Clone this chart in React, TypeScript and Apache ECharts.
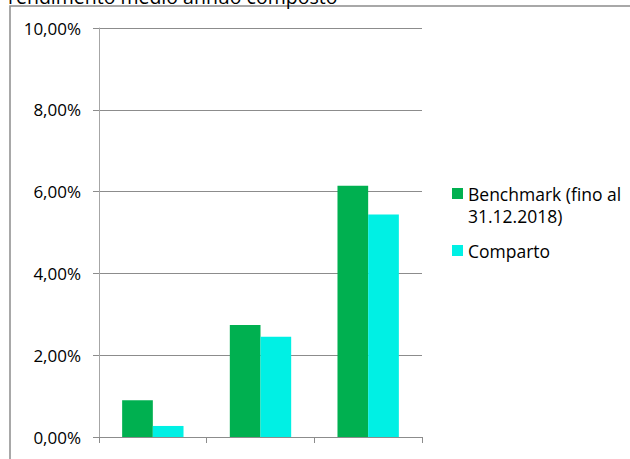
import React, { useEffect, useRef } from "react";
import * as echarts from "echarts";

const categories = ["1 anno", "3 anni", "5 anni"];
const benchmarkValues = [0.9, 2.74, 6.14];
const compartoValues = [0.27, 2.45, 5.44];
const seriesNames = ["Benchmark (fino al 31.12.2018)", "Comparto"];
const legendFirstLine = "Benchmark (fino al";
const legendSecondLine = "31.12.2018)";
const chartTitle = "rendimento medio annuo composto";

const FONT = "'Open Sans', 'Noto Sans', sans-serif";

export default function App() {
  const ref = useRef<HTMLDivElement>(null);
  useEffect(() => {
    if (!ref.current) return;
    const chart = echarts.init(ref.current, null, { renderer: "svg" });
    chart.setOption({
      animation: false,
      backgroundColor: "#ffffff",
      textStyle: { fontFamily: FONT },
      graphic: [
        {
          type: "rect",
          shape: { x: 10, y: 6, width: 700, height: 520 },
          style: { fill: "none", stroke: "#8c8c8c", lineWidth: 1.5 },
          silent: true,
        },
        {
          type: "text",
          x: 8,
          y: -4,
          style: {
            text: chartTitle,
            font: `19.5px ${FONT}`,
            fill: "#000000",
            verticalAlign: "middle",
          },
        },
        {
          type: "text",
          x: 468,
          y: 216,
          style: {
            text: legendSecondLine,
            font: `17.5px ${FONT}`,
            fill: "#000000",
            verticalAlign: "middle",
          },
        },
      ],
      legend: {
        orient: "vertical",
        left: 452,
        top: 182,
        padding: 0,
        itemWidth: 11,
        itemHeight: 11,
        itemGap: 34,
        icon: "rect",
        formatter: (name: string) =>
          name === seriesNames[0] ? legendFirstLine : name,
        textStyle: { fontFamily: FONT, fontSize: 17.5, color: "#000", lineHeight: 23 },
        data: seriesNames,
      },
      grid: { left: 99, top: 28, right: 208, bottom: 22, containLabel: false },
      xAxis: {
        type: "category",
        data: categories,
        axisLine: { lineStyle: { color: "#8c8c8c", width: 1 } },
        axisTick: { show: true, length: 6, lineStyle: { color: "#8c8c8c" } },
        axisLabel: { show: false },
        splitLine: { show: false },
      },
      yAxis: {
        type: "value",
        min: 0,
        max: 10,
        interval: 2,
        axisLine: { show: true, lineStyle: { color: "#a6a6a6", width: 1 } },
        axisTick: { show: true, length: 6, lineStyle: { color: "#8c8c8c" } },
        axisLabel: {
          margin: 18,
          fontFamily: FONT,
          fontSize: 17,
          color: "#000",
          formatter: (v: number) => v.toFixed(2).replace(".", ",") + "%",
        },
        splitLine: { show: true, lineStyle: { color: "#8c8c8c", width: 1 } },
      },
      series: [
        {
          name: seriesNames[0],
          type: "bar",
          data: benchmarkValues,
          barGap: "0%",
          barCategoryGap: "43%",
          itemStyle: { color: "#00B050" },
        },
        {
          name: seriesNames[1],
          type: "bar",
          data: compartoValues,
          itemStyle: { color: "#00F0E4" },
        },
      ],
    });
    return () => chart.dispose();
  }, []);
  return (
    <div
      ref={ref}
      style={{ position: "absolute", left: 0, top: 0, width: 630, height: 459 }}
    />
  );
}
